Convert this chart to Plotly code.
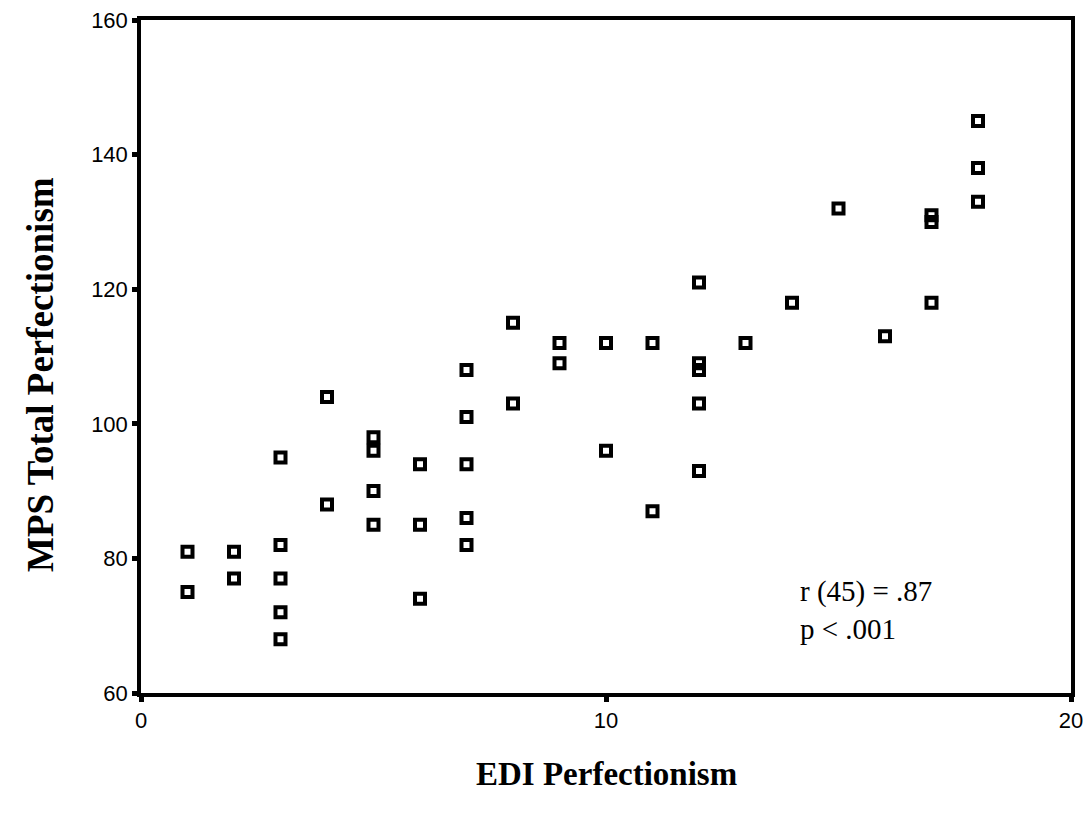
import plotly.graph_objects as go

edi = [1, 1, 2, 2, 3, 3, 3, 3, 3, 4, 4, 5, 5, 5, 5, 6, 6, 6,
       7, 7, 7, 7, 7, 8, 8, 9, 9, 10, 10, 11, 11, 12, 12, 12, 12, 12,
       13, 14, 15, 16, 17, 17, 17, 18, 18, 18]
mps = [81, 75, 81, 77, 95, 82, 77, 72, 68, 104, 88, 98, 96, 90, 85, 94, 85, 74,
       108, 101, 94, 86, 82, 115, 103, 112, 109, 112, 96, 112, 87, 121, 109, 108, 103, 93,
       112, 118, 132, 113, 131, 130, 118, 145, 138, 133]

x_ticks = [0, 10, 20]
y_ticks = [60, 80, 100, 120, 140, 160]

fig = go.Figure()
fig.add_trace(go.Scatter(
    x=edi, y=mps, mode="markers",
    marker=dict(symbol="square-open", size=10, color="black",
                line=dict(width=4, color="black")),
    showlegend=False, hoverinfo="x+y"))

axis_common = dict(showline=True, linecolor="black", linewidth=3.5, mirror=True,
                   showgrid=False, zeroline=False, ticks="outside", ticklen=5,
                   tickwidth=5, tickcolor="black", automargin=False,
                   ticklabeloverflow="allow",
                   tickfont=dict(family="Liberation Sans", size=22, color="black"))

fig.update_layout(
    autosize=False,
    width=1083, height=817,
    margin=dict(l=141, r=12, t=20, b=124),
    paper_bgcolor="white", plot_bgcolor="white",
    xaxis=dict(range=[0, 20], tickvals=x_ticks, **axis_common),
    yaxis=dict(range=[60, 160], tickvals=y_ticks, **axis_common),
    annotations=[
        dict(text="<b>EDI Perfectionism</b>", xref="paper", yref="paper",
             x=0.5, y=-0.12, xanchor="center", yanchor="middle", showarrow=False,
             font=dict(family="Liberation Serif", size=33, color="black")),
        dict(text="<b>MPS Total Perfectionism</b>", xref="paper", yref="paper",
             x=-0.1086, y=0.4725, xanchor="center", yanchor="middle", showarrow=False,
             textangle=-90,
             font=dict(family="Liberation Serif", size=37, color="black")),
        dict(text="r (45) = .87<br>p < .001", xref="x", yref="y",
             x=14.13, y=72.3, xanchor="left", yanchor="middle", align="left",
             showarrow=False,
             font=dict(family="Liberation Serif", size=29, color="black")),
    ],
)

fig.write_html("out.html",
               config={"displayModeBar": False, "responsive": False},
               post_script="document.body.style.margin='0';"
                           "document.body.style.overflow='hidden';")
